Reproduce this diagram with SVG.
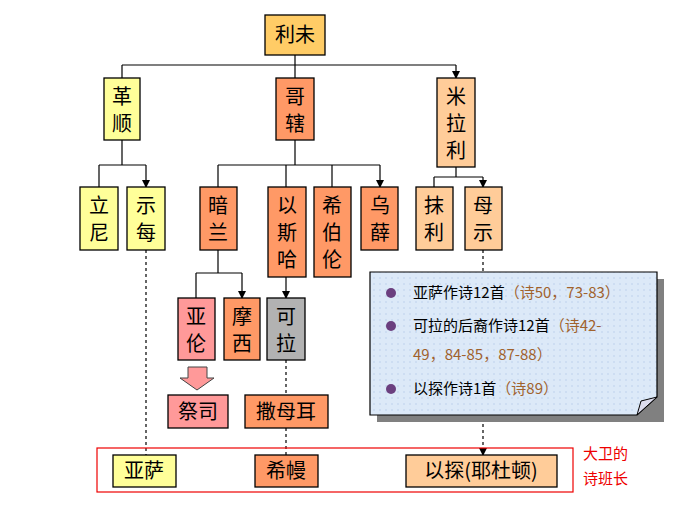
<svg xmlns="http://www.w3.org/2000/svg" width="680" height="509" viewBox="0 0 680 509">
<style>
.b{stroke:#000;stroke-width:1.3}
.t{font-family:"Noto Sans CJK SC",sans-serif;font-size:20px;text-anchor:middle}
.c{fill:none;stroke:#000;stroke-width:1.2}
.d{fill:none;stroke:#000;stroke-width:1.2;stroke-dasharray:3,3}
.n{font-family:"Noto Sans CJK SC",sans-serif;font-size:15px}
.o{fill:#A0622D}
</style>
<defs>
<marker id="a" markerWidth="8" markerHeight="8" refX="7" refY="4" orient="auto" markerUnits="userSpaceOnUse"><path d="M0,0L8,4L0,8z"/></marker>
<pattern id="p" width="6" height="6" patternUnits="userSpaceOnUse"><rect width="6" height="6" fill="#DCE9F8"/><circle cx="2" cy="2" r="1" fill="#C9DAF0"/></pattern>
</defs>
<rect width="680" height="509" fill="#fff"/>
<g id="connectors">
<path class="c" d="M295,55V65M122,65H456"/>
<path class="c" d="M122,65V78M295,65V78M456,65V78" marker-end="url(#a)"/>
<path class="c" d="M122,140V165M99,165H146M99,165V187M146,165V187" marker-end="url(#a)"/>
<path class="c" d="M295,140V165M218,165H380M218,165V187M286,165V187M332,165V187M380,165V187" marker-end="url(#a)"/>
<path class="c" d="M456,167V177M434,177H483M434,177V187M483,177V187" marker-end="url(#a)"/>
<path class="c" d="M218,250V273M196,273H242M196,273V298M242,273V298" marker-end="url(#a)"/>
<path class="c" d="M286,277V298" marker-end="url(#a)"/>
<path class="d" d="M146,250V455M286,360V395M286,428V455M483,250V455" marker-end="url(#a)"/>
</g>
<g id="levi"><rect class="b" x="265" y="15" width="60" height="40" fill="#FFCC66"/><text class="t" x="295" y="42">利未</text></g>
<g id="gershon"><rect class="b" x="104" y="78" width="36" height="62" fill="#FFFF99"/><text class="t" x="122" y="104">革</text><text class="t" x="122" y="131">顺</text></g>
<g id="kohath"><rect class="b" x="276" y="78" width="38" height="62" fill="#FF9966"/><text class="t" x="295" y="104">哥</text><text class="t" x="295" y="131">辖</text></g>
<g id="merari"><rect class="b" x="437" y="78" width="38" height="89" fill="#FFCC99"/><text class="t" x="456" y="104">米</text><text class="t" x="456" y="131">拉</text><text class="t" x="456" y="158">利</text></g>
<g id="libni"><rect class="b" x="80" y="187" width="38" height="63" fill="#FFFF99"/><text class="t" x="99" y="213">立</text><text class="t" x="99" y="240">尼</text></g>
<g id="shimei"><rect class="b" x="127" y="187" width="38" height="63" fill="#FFFF99"/><text class="t" x="146" y="213">示</text><text class="t" x="146" y="240">每</text></g>
<g id="amram"><rect class="b" x="200" y="187" width="37" height="63" fill="#FF9966"/><text class="t" x="218" y="213">暗</text><text class="t" x="218" y="240">兰</text></g>
<g id="izhar"><rect class="b" x="268" y="187" width="38" height="90" fill="#FF9966"/><text class="t" x="287" y="213">以</text><text class="t" x="287" y="240">斯</text><text class="t" x="287" y="267">哈</text></g>
<g id="hebron"><rect class="b" x="314" y="187" width="37" height="90" fill="#FF9966"/><text class="t" x="332" y="213">希</text><text class="t" x="332" y="240">伯</text><text class="t" x="332" y="267">伦</text></g>
<g id="uzziel"><rect class="b" x="361" y="187" width="37" height="63" fill="#FF9966"/><text class="t" x="380" y="213">乌</text><text class="t" x="380" y="240">薛</text></g>
<g id="mahli"><rect class="b" x="416" y="187" width="37" height="63" fill="#FFCC99"/><text class="t" x="434" y="213">抹</text><text class="t" x="434" y="240">利</text></g>
<g id="mushi"><rect class="b" x="465" y="187" width="37" height="63" fill="#FFCC99"/><text class="t" x="483" y="213">母</text><text class="t" x="483" y="240">示</text></g>
<g id="aaron"><rect class="b" x="178" y="298" width="37" height="62" fill="#FF9999"/><text class="t" x="196" y="324">亚</text><text class="t" x="196" y="351">伦</text></g>
<g id="moses"><rect class="b" x="224" y="298" width="36" height="62" fill="#FF9966"/><text class="t" x="242" y="324">摩</text><text class="t" x="242" y="351">西</text></g>
<g id="korah"><rect class="b" x="267" y="298" width="38" height="62" fill="#B2B2B2"/><text class="t" x="286" y="324">可</text><text class="t" x="286" y="351">拉</text></g>
<g id="arrowblock"><path d="M188,367H207V378H214L197,390L180,378H188Z" fill="#FF9999" stroke="#444" stroke-width="1"/></g>
<g id="priest"><rect class="b" x="168" y="395" width="60" height="33" fill="#FF9999"/><text class="t" x="198" y="419">祭司</text></g>
<g id="samuel"><rect class="b" x="245" y="395" width="83" height="33" fill="#FF9966"/><text class="t" x="286" y="419">撒母耳</text></g>
<g id="note">
<rect x="377" y="279" width="287" height="143" fill="#808080"/>
<path d="M370,272H657V397L637,415H370Z" fill="url(#p)" stroke="#000" stroke-width="1.2"/>
<path d="M637,415L641,401L657,397Z" fill="#DDE" stroke="#000" stroke-width="1"/>
<circle cx="391" cy="293" r="5" fill="#6B3F7F"/><circle cx="391" cy="326" r="5" fill="#6B3F7F"/><circle cx="391" cy="389" r="5" fill="#6B3F7F"/>
<text class="n" x="413" y="298">亚萨作诗12首<tspan class="o">（诗50，73-83）</tspan></text>
<text class="n" x="413" y="331">可拉的后裔作诗12首<tspan class="o">（诗42-</tspan></text>
<text class="n o" x="413" y="360">49，84-85，87-88）</text>
<text class="n" x="413" y="394">以探作诗1首<tspan class="o">（诗89）</tspan></text>
</g>
<g id="singers">
<rect x="97" y="448" width="476" height="44" fill="none" stroke="#E00" stroke-width="1.2"/>
<text x="583" y="459" font-family="Noto Sans CJK SC,sans-serif" font-size="15" fill="#E00">大卫的</text>
<text x="583" y="484" font-family="Noto Sans CJK SC,sans-serif" font-size="15" fill="#E00">诗班长</text>
</g>
<g id="asaph"><rect class="b" x="113" y="455" width="63" height="32" fill="#FFFF99"/><text class="t" x="144" y="478">亚萨</text></g>
<g id="heman"><rect class="b" x="255" y="455" width="63" height="32" fill="#FF9966"/><text class="t" x="286" y="478">希幔</text></g>
<g id="ethan"><rect class="b" x="406" y="455" width="151" height="32" fill="#FFCC99"/><text class="t" x="481" y="478">以探(耶杜顿)</text></g>
</svg>
